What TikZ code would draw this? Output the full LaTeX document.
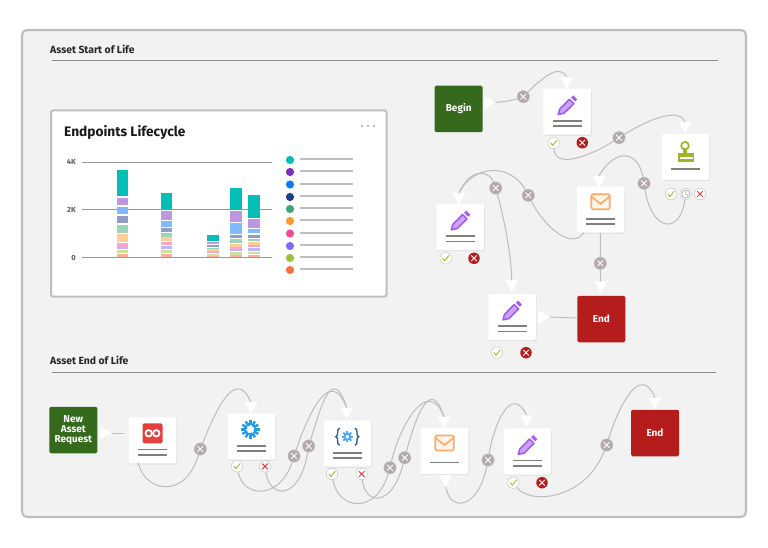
\documentclass[tikz,border=0pt]{standalone}
\usepackage{fontspec}
\setmainfont{Fira Sans}
\usetikzlibrary{shapes.geometric, shadows}

\definecolor{framegray}{HTML}{BFBFBF}
\definecolor{wire}{HTML}{BDBDBD}
\definecolor{gatefill}{HTML}{B3ABAB}
\definecolor{cardline}{HTML}{7F7F7F}
\definecolor{startgreen}{HTML}{35691C}
\definecolor{endred}{HTML}{B51C1C}
\definecolor{pencilpurple}{HTML}{A35BF5}
\definecolor{mailorange}{HTML}{FFAA66}
\definecolor{stamplime}{HTML}{9DB426}
\definecolor{loopred}{HTML}{E53E3E}
\definecolor{sunblue}{HTML}{1C9FE6}
\definecolor{bracenavy}{HTML}{3E5F86}
\definecolor{gearblue}{HTML}{4FA8F2}
% legend colours
\definecolor{c1}{HTML}{05BFB6}
\definecolor{c2}{HTML}{7B2FBF}
\definecolor{c3}{HTML}{0A7BFF}
\definecolor{c4}{HTML}{1F3D8F}
\definecolor{c5}{HTML}{3BA776}
\definecolor{c6}{HTML}{FF9A2E}
\definecolor{c7}{HTML}{EE4B96}
\definecolor{c8}{HTML}{7B6CFF}
\definecolor{c9}{HTML}{9BC23C}
\definecolor{c10}{HTML}{FF7043}
% bar colours
\colorlet{b1}{c1}
\colorlet{b2}{c2!50!white}
\colorlet{b3}{c3!52!white}
\colorlet{b4}{c4!50!white}
\colorlet{b5}{c5!50!white}
\colorlet{b6}{c6!50!white}
\colorlet{b7}{c7!50!white}
\colorlet{b8}{c8!50!white}
\colorlet{b9}{c9!50!white}
\colorlet{b10}{c10!55!white}

\tikzset{
  pics/twolines/.style={code={
    \fill[cardline] (-14.5,8.2) rectangle (14.5,9.9);
    \fill[cardline] (-14.5,13.7) rectangle (14.5,15.4);}},
  pics/oneline/.style={code={
    \fill[cardline] (-14.5,10.7) rectangle (14.5,12.4);}},
  pics/pencilicon/.style={code={
    \draw[pencilpurple, line width=1.6pt, line join=round, fill=pencilpurple!55]
      (-9,2.8) -- (-7.5,-2.6) -- (2.2,-12.4) -- (6.6,-8) -- (-3.2,1.6) -- cycle;
    \fill[pencilpurple] (3.8,-14.2) -- (6,-16.4) -- (10,-12.4) -- (7.8,-10.2) -- cycle;}},
  pics/mailicon/.style={code={
    \draw[mailorange, line width=1.7pt, rounded corners=1.5pt, fill=mailorange!12]
      (-9.3,-15.5) rectangle (9.3,-0.5);
    \draw[mailorange, line width=1.7pt] (-9,-13) -- (0,-6) -- (9,-13);}},
  pics/stampicon/.style={code={
    \draw[stamplime, line width=1.7pt] (-0.5,-11.3) circle (3.8);
    \fill[stamplime] (-2.5,-8.5) rectangle (1.5,-3.5);
    \fill[stamplime] (-7.8,-3.7) rectangle (8.8,4.7);
    \fill[white] (-6,-0.2) rectangle (7,1.6);
    \fill[cardline] (-14.5,11.2) rectangle (14.5,12.9);}},
  pics/loopicon/.style={code={
    \fill[loopred, rounded corners=1.5pt] (-10,-17) rectangle (10,3);
    \draw[white, line width=1.8pt] (-3.8,-7) circle (3.2);
    \draw[white, line width=1.8pt] (3.8,-7) circle (3.2);}},
  pics/sunicon/.style={code={
    \foreach \a in {0,30,...,330}
      \draw[sunblue, line width=2.4pt] (-1,-7.4) ++(\a:4) -- ++(\a:5.2);
    \foreach \a in {15,75,...,315}
      \draw[sunblue, line width=1.2pt] (-1,-7.4) ++(\a:3.5) -- ++(\a:3);}},
  pics/gearicon/.style={code={
    \draw[bracenavy, line width=1.4pt] (-7.5,-15.5) .. controls (-11.5,-15.5) and (-8,-7) .. (-11.5,-7)
      .. controls (-8,-7) and (-11.5,1.5) .. (-7.5,1.5);
    \draw[bracenavy, line width=1.4pt] (7.5,-15.5) .. controls (11.5,-15.5) and (8,-7) .. (11.5,-7)
      .. controls (8,-7) and (11.5,1.5) .. (7.5,1.5);
    \foreach \a in {0,45,...,315}
      \draw[gearblue, line width=1.8pt] (0,-7) ++(\a:3) -- ++(\a:2.7);
    \draw[gearblue, line width=2pt] (0,-7) circle (3);}}
}

\begin{document}
\begin{tikzpicture}[x=1pt, y=-1pt]

\tikzset{frame/.style = {draw=framegray, fill=black!5, line width=2.2pt, rounded corners=5pt}}
\tikzset{heading/.style = {anchor=west, inner sep=0pt, font=\fontsize{10.4}{12}\selectfont\bfseries, text=black!85}}
\tikzset{rulerline/.style = {black!45, line width=.8pt}}
\tikzset{card/.style = {shape=rectangle, fill=white, minimum width=47.5pt, minimum height=46pt, inner sep=0pt,
    rounded corners=1.5pt, drop shadow={shadow xshift=.8pt, shadow yshift=-1.2pt, opacity=.14}}}
\tikzset{term/.style = {shape=rectangle, minimum width=48pt, minimum height=46.5pt, inner sep=0pt, rounded corners=1.5pt,
    text=white, align=center, font=\fontsize{10}{10}\selectfont\bfseries}}
\tikzset{startbox/.style = {term, fill=startgreen}}
\tikzset{endbox/.style = {term, fill=endred}}
\tikzset{tipdown/.style = {shape=regular polygon, regular polygon sides=3, shape border rotate=180,
    fill=white, minimum size=15pt, inner sep=0pt}}
\tikzset{tipright/.style = {tipdown, shape border rotate=-90}}
\tikzset{wireline/.style = {wire, line width=1pt}}
\tikzset{gate/.style = {shape=circle, fill=gatefill, draw=black!22, line width=.3pt, minimum size=12.5pt, inner sep=0pt,
    path picture={\draw[white, line width=.9pt] (path picture bounding box.center) +(-2.8,-2.8) -- +(2.8,2.8)
      (path picture bounding box.center) +(-2.8,2.8) -- +(2.8,-2.8);}}}
\tikzset{okmark/.style = {shape=circle, fill=white, draw=black!22, line width=.5pt, minimum size=11.5pt, inner sep=0pt,
    path picture={\draw[c9, line width=1pt] (path picture bounding box.center) +(-3.2,0) -- +(-1,2.4) -- +(3.2,-2.8);}}}
\tikzset{nomark/.style = {shape=circle, fill=white, draw=black!22, line width=.5pt, minimum size=11.5pt, inner sep=0pt,
    path picture={\draw[loopred, line width=1pt] (path picture bounding box.center) +(-2.8,-2.8) -- +(2.8,2.8)
      (path picture bounding box.center) +(-2.8,2.8) -- +(2.8,-2.8);}}}
\tikzset{rejmark/.style = {shape=circle, fill=endred, minimum size=11.5pt, inner sep=0pt,
    path picture={\draw[white, line width=.9pt] (path picture bounding box.center) +(-2.8,-2.8) -- +(2.8,2.8)
      (path picture bounding box.center) +(-2.8,2.8) -- +(2.8,-2.8);}}}
\tikzset{waitmark/.style = {shape=circle, fill=white, draw=black!22, line width=.5pt, minimum size=11.5pt, inner sep=0pt,
    path picture={\draw[black!30, line width=.8pt] (path picture bounding box.center) circle (4)
      (path picture bounding box.center) +(0,-2.6) -- +(0,0) -- +(2,1.6);}}}

\useasboundingbox (0,0) rectangle (768,548);
\draw[frame] (22,30) rectangle (746,517);

%headings
\node[heading] (startlabel) at (50,49) {Asset Start of Life};
\node[heading] (endlabel) at (50,360) {Asset End of Life};
\draw[rulerline] (52,60) -- (718,60);
\draw[rulerline] (52,372.5) -- (716,372.5);

%chart panel
\draw[draw=framegray, fill=white, line width=2pt, rounded corners=2pt] (51,110.5) rectangle (386.5,296.5);
\node[anchor=west, inner sep=0pt, font=\fontsize{13.7}{15}\selectfont\bfseries, text=black!90] (charttitle) at (64,132.5) {Endpoints Lifecycle};
\foreach \d in {362,368,374}
  \fill[black!35] (\d,126) circle (1.2);
\foreach \ly/\lb in {162.3/4K,209.5/2K,257.5/0} {
  \draw[black!40, line width=1.1pt] (81.5,\ly) -- (272,\ly);
  \node[anchor=east, inner sep=0pt, font=\fontsize{7.5}{9}\selectfont\bfseries, text=black!65] at (76,\ly) {\lb};
}
\foreach \bx/\segs in {
  116.7/{170/196,197.7/205,206.7/214.3,216/223.3,224.7/232.7,234/242,243/246.7,247/249.3,249.7/253.3,254/257.3},
  160.7/{193.3/210,211/220,221/227.3,228/232,232.7/236.7,237.3/241.3,241.7/245.3,246/249,249.7/253.3,254/257.3},
  207.3/{235/241,241.7/242.7,243/244.3,245/247,247.7/249,249.3/251,251.3/253.3,253.5/254,254.2/255.7,256/257.3},
  230/{188.3/210,211/222,223/234.3,234.7/238,238.7/243,243.7/246.7,247/248.7,249/251,251.7/254.7,255.3/257.3},
  248.3/{195.3/217.7,218.7/228,229/233.3,234.7/238,238.7/241.3,242/244.7,245.3/247.3,248/251,251.7/254.3,255/257.3}} {
  \foreach \ya/\yb [count=\i] in \segs
    \fill[b\i] (\bx,\ya) rectangle (\bx+11.6,\yb);
}
\foreach \ly [count=\i] in {160,172,184.5,197,209,221,233.5,246,258,270} {
  \fill[c\i] (290,\ly) circle (4.1);
  \fill[black!25] (300,\ly-1.7) rectangle (353,\ly+.3);
}

%upper flow
\node[startbox] (begin) at (458.7,109) {Begin};
\node[card] (editone) at (567.2,111.7) {};
\node[card] (stamp) at (685.5,157) {};
\node[card] (mailone) at (600.5,209.7) {};
\node[card] (edittwo) at (460.3,227) {};
\node[card] (editthree) at (512,317) {};
\node[endbox] (endone) at (601.3,319) {End};
\pic at (editone.center) {pencilicon};
\pic at (editone.center) {twolines};
\pic at (stamp.center) {stampicon};
\pic at (mailone.center) {mailicon};
\pic at (mailone.center) {twolines};
\pic at (edittwo.center) {pencilicon};
\pic at (edittwo.center) {twolines};
\pic at (editthree.center) {pencilicon};
\pic at (editthree.center) {twolines};

\node[tipright] (tipbegin) at (487.8,102.3) {};
\node[tipdown] (tipone) at (566.7,81.2) {};
\node[tipdown] (tipstamp) at (685,125.8) {};
\node[tipdown] (tipmail) at (599,179.8) {};
\node[tipdown] (tiptwo) at (459,197) {};
\node[tipdown] (tipthree) at (511.7,284.2) {};
\node[tipdown] (tipend) at (600.7,285.2) {};
\node[tipright] (tipout) at (542.2,317) {};

\node[gate] (gone) at (523.3,96.7) {};
\node[gate] (gtwo) at (619,137.7) {};
\node[gate] (gthree) at (644,183.3) {};
\node[gate] (gfour) at (528.3,195.3) {};
\node[gate] (gfive) at (495.7,188) {};
\node[gate] (gsix) at (600.3,263.3) {};

\node[okmark] (okone) at (553.7,143) {};
\node[rejmark] (rejone) at (582.3,142.7) {};
\node[okmark] (okstamp) at (671,194) {};
\node[waitmark] (waitstamp) at (685.7,194) {};
\node[nomark] (nostamp) at (700,194) {};
\node[okmark] (oktwo) at (445.7,258.3) {};
\node[rejmark] (rejtwo) at (474,258.3) {};
\node[okmark] (okthree) at (497,352.7) {};
\node[rejmark] (rejthree) at (526,352.7) {};

\coordinate (mailcorner) at (584,232.7);

\draw[wireline] (tipbegin.corner 1) .. controls (504,102) and (514,100) .. (gone);
\draw[wireline] (gone) .. controls (540,80) and (560,62) .. (tipone.side 2);
\draw[wireline] (okone) .. controls (555,170) and (592,155) .. (gtwo);
\draw[wireline] (gtwo) .. controls (641,124) and (678,105) .. (tipstamp.side 2);
\draw[wireline] (waitstamp) .. controls (680,235) and (652,232) .. (gthree);
\draw[wireline] (gthree) .. controls (638,150) and (615,148) .. (tipmail.side 2);
\draw[wireline] (mailcorner) .. controls (572,250) and (545,228) .. (gfour);
\draw[wireline] (gfour) .. controls (512,165) and (475,162) .. (tiptwo.side 2);
\draw[wireline] (gfive) .. controls (503,215) and (511,250) .. (tipthree.side 2);
\draw[wireline] (gfive) .. controls (490,172) and (472,165) .. (tiptwo.side 2);
\draw[wireline] (mailone) -- (gsix);
\draw[wireline] (gsix) -- (tipend.side 2);
\draw[wireline] (tipout.corner 1) -- (endone);

%lower flow
\node[startbox] (newasset) at (73.3,430) {New\\Asset\\Request};
\node[card] (looper) at (152.5,440.3) {};
\node[card] (sun) at (251.3,436.7) {};
\node[card] (gear) at (347.3,443.7) {};
\node[card] (mailtwo) at (444.5,451) {};
\node[card] (editfour) at (527.3,451.5) {};
\node[endbox] (endtwo) at (655,433) {End};
\pic at (looper.center) {loopicon};
\pic at (looper.center) {twolines};
\pic at (sun.center) {sunicon};
\pic at (sun.center) {twolines};
\pic at (gear.center) {gearicon};
\pic at (gear.center) {twolines};
\pic at (mailtwo.center) {mailicon};
\pic at (mailtwo.center) {oneline};
\pic at (editfour.center) {pencilicon};
\pic at (editfour.center) {twolines};

\node[tipright] (tipnew) at (103.8,433) {};
\node[tipdown] (tipsun) at (250.7,405.9) {};
\node[tipdown] (tipgear) at (346.7,411.5) {};
\node[tipdown] (tipmailtwo) at (444,420.5) {};
\node[tipdown] (tipmailout) at (445.7,479.2) {};
\node[tipdown] (tipfour) at (526.7,419.2) {};
\node[tipdown] (tipendtwo) at (655,401.5) {};

\node[gate] (gseven) at (200.3,449) {};
\node[gate] (geight) at (294,456) {};
\node[gate] (gnine) at (308.7,446) {};
\node[gate] (gten) at (390,467.7) {};
\node[gate] (geleven) at (404.7,457.7) {};
\node[gate] (gtwelve) at (488,460) {};
\node[gate] (gthirteen) at (606.7,445) {};

\node[okmark] (oksun) at (237,466.3) {};
\node[nomark] (nosun) at (265,466.3) {};
\node[okmark] (okgear) at (332,474) {};
\node[nomark] (nogear) at (361.7,474) {};
\node[okmark] (okfour) at (513.3,482.7) {};
\node[rejmark] (rejfour) at (542,482.7) {};

\coordinate (loopcorner) at (138.3,463);

\draw[wireline] (tipnew.corner 1) -- (124.3,433);
\draw[wireline] (loopcorner) .. controls (145,492) and (185,500) .. (gseven);
\draw[wireline] (gseven) .. controls (214,415) and (235,365) .. (tipsun.side 2);
\draw[wireline] (oksun) .. controls (243,498) and (280,500) .. (geight);
\draw[wireline] (geight) .. controls (308,415) and (330,365) .. (tipgear.side 2);
\draw[wireline] (nosun) .. controls (270,500) and (300,500) .. (gnine);
\draw[wireline] (gnine) .. controls (320,410) and (332,362) .. (tipgear.side 2);
\draw[wireline] (okgear) .. controls (338,510) and (376,515) .. (gten);
\draw[wireline] (gten) .. controls (400,425) and (428,376) .. (tipmailtwo.side 2);
\draw[wireline] (nogear) .. controls (365,505) and (392,508) .. (geleven);
\draw[wireline] (geleven) .. controls (415,420) and (430,374) .. (tipmailtwo.side 2);
\draw[wireline] (tipmailout.corner 1) .. controls (450,512) and (478,510) .. (gtwelve);
\draw[wireline] (gtwelve) .. controls (495,420) and (512,385) .. (tipfour.side 2);
\draw[wireline] (okfour) .. controls (530,505) and (585,500) .. (gthirteen);
\draw[wireline] (gthirteen) .. controls (618,408) and (640,362) .. (tipendtwo.side 2);

\end{tikzpicture}
\end{document}
